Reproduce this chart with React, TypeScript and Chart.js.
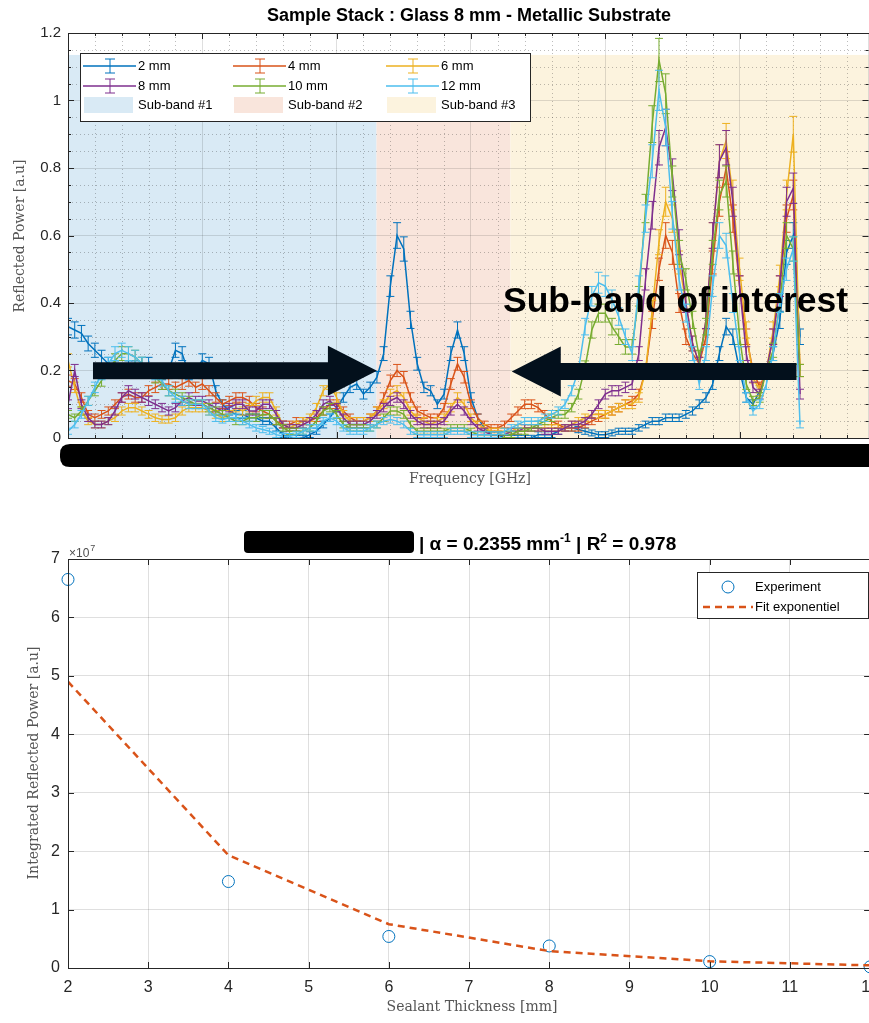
import React, { useEffect, useRef } from "react";
import { Chart, registerables } from "chart.js";

Chart.register(...registerables);

const SANS = '"Liberation Sans", Arial, Helvetica, sans-serif';
const SERIF = '"DejaVu Serif", "Liberation Serif", serif';
const AXIS = "#262626";
const GRID = "rgba(38,38,38,0.15)";
const MINOR = "rgba(38,38,38,0.30)";
const LABEL_GRAY = "#555555";

// ---------------- top chart data ----------------
// sampling grid along the (hidden) frequency axis, arbitrary units
const frequency: number[] = Array.from({ length: 110 }, (_, i) => Math.round(i * 5) / 100);

const seriesLabels = ["2 mm", "4 mm", "6 mm", "8 mm", "10 mm", "12 mm"];
const seriesColors = ["#0072BD", "#D95319", "#EDB120", "#7E2F8E", "#77AC30", "#4DBEEE"];

const p2mm = [
  0.33, 0.32, 0.31, 0.28, 0.26, 0.24, 0.22, 0.21, 0.2, 0.21,
  0.21, 0.22, 0.22, 0.2, 0.19, 0.2, 0.26, 0.25, 0.19, 0.2,
  0.23, 0.22, 0.14, 0.1, 0.08, 0.07, 0.07, 0.06, 0.06, 0.05,
  0.05, 0.03, 0.01, 0.0, 0.0, 0.0, 0.01, 0.02, 0.04, 0.06,
  0.09, 0.12, 0.15, 0.16, 0.13, 0.15, 0.18, 0.25, 0.45, 0.6,
  0.56, 0.35, 0.22, 0.15, 0.14, 0.1, 0.13, 0.25, 0.32, 0.25,
  0.12, 0.06, 0.03, 0.01, 0.01, 0.0, 0.0, 0.0, 0.0, 0.0,
  0.01, 0.01, 0.01, 0.02, 0.03, 0.03, 0.025, 0.02, 0.015, 0.01,
  0.01, 0.015, 0.02, 0.02, 0.02, 0.03, 0.04, 0.05, 0.05, 0.06,
  0.06, 0.06, 0.07, 0.08, 0.1, 0.12, 0.16, 0.25, 0.33, 0.3,
  0.2, 0.12, 0.1, 0.14, 0.2, 0.25, 0.35, 0.55, 0.6, 0.3,
];
const p4mm = [
  0.17, 0.16, 0.12, 0.07, 0.06, 0.07, 0.08, 0.1, 0.12, 0.13,
  0.12, 0.12, 0.14, 0.15, 0.16, 0.16, 0.15, 0.16, 0.17, 0.15,
  0.16, 0.14, 0.12, 0.1, 0.11, 0.12, 0.12, 0.11, 0.09, 0.08,
  0.07, 0.05, 0.04, 0.04, 0.05, 0.05, 0.05, 0.06, 0.08, 0.1,
  0.1, 0.08, 0.06, 0.05, 0.05, 0.06, 0.08, 0.12, 0.17, 0.2,
  0.18, 0.12, 0.08, 0.07, 0.06, 0.06, 0.09, 0.16, 0.22, 0.18,
  0.1, 0.06, 0.04, 0.03, 0.03, 0.04, 0.06, 0.08, 0.1, 0.1,
  0.09, 0.07, 0.05, 0.04, 0.03, 0.03, 0.03, 0.04, 0.05, 0.06,
  0.07, 0.08, 0.09, 0.1, 0.11, 0.13, 0.2, 0.35, 0.5, 0.6,
  0.55, 0.4, 0.3, 0.25, 0.22, 0.3, 0.52, 0.7, 0.8, 0.65,
  0.45, 0.3, 0.2, 0.15, 0.2, 0.3, 0.45, 0.65, 0.72, 0.2,
];
const p6mm = [
  0.23, 0.15, 0.08, 0.05, 0.04, 0.04, 0.05, 0.06, 0.08, 0.09,
  0.09, 0.08, 0.07, 0.06, 0.055, 0.055, 0.06, 0.08, 0.09, 0.09,
  0.09, 0.08, 0.07, 0.06, 0.07, 0.09, 0.08, 0.09, 0.11, 0.12,
  0.12, 0.08, 0.04, 0.03, 0.04, 0.05, 0.06, 0.09, 0.14, 0.16,
  0.12, 0.07, 0.05, 0.05, 0.05, 0.06, 0.08, 0.1, 0.13, 0.14,
  0.12, 0.08, 0.06, 0.05, 0.04, 0.05, 0.06, 0.09, 0.12, 0.1,
  0.06, 0.04, 0.03, 0.02, 0.02, 0.02, 0.02, 0.03, 0.03, 0.03,
  0.03, 0.03, 0.03, 0.03, 0.03, 0.04, 0.05, 0.06, 0.07, 0.07,
  0.07, 0.08, 0.09, 0.1, 0.1, 0.12, 0.2, 0.38, 0.58, 0.7,
  0.65, 0.52, 0.4, 0.28, 0.22, 0.35, 0.6, 0.82, 0.88, 0.72,
  0.5, 0.32, 0.18, 0.14, 0.2, 0.32, 0.48, 0.72, 0.9, 0.2,
];
const p8mm = [
  0.1, 0.2, 0.1, 0.06, 0.04, 0.04, 0.05, 0.08, 0.12, 0.14,
  0.13, 0.12, 0.11, 0.1, 0.09, 0.08, 0.09, 0.11, 0.12, 0.11,
  0.11, 0.1, 0.09, 0.08, 0.09, 0.1, 0.1, 0.08, 0.08, 0.1,
  0.1, 0.07, 0.04, 0.03, 0.03, 0.04, 0.05, 0.07, 0.1, 0.11,
  0.09, 0.06, 0.04, 0.04, 0.04, 0.05, 0.07, 0.09, 0.11, 0.12,
  0.1, 0.07, 0.05, 0.04, 0.04, 0.04, 0.05, 0.08, 0.1, 0.08,
  0.05, 0.03, 0.02, 0.01, 0.01, 0.01, 0.02, 0.02, 0.03, 0.03,
  0.03, 0.02, 0.02, 0.02, 0.03, 0.04, 0.04, 0.05, 0.07, 0.1,
  0.13, 0.14, 0.14, 0.15, 0.16, 0.25, 0.47, 0.66, 0.86, 0.92,
  0.78, 0.58, 0.4, 0.28, 0.22, 0.35, 0.6, 0.82, 0.86, 0.7,
  0.45, 0.25, 0.15, 0.13, 0.2, 0.3, 0.45, 0.7, 0.74, 0.13,
];
const p10mm = [
  0.07, 0.06, 0.08, 0.11, 0.14, 0.17, 0.2, 0.23, 0.25, 0.25,
  0.24, 0.22, 0.2, 0.18, 0.16, 0.14, 0.13, 0.12, 0.11, 0.1,
  0.1, 0.09, 0.08, 0.07, 0.06, 0.05, 0.05, 0.06, 0.06, 0.07,
  0.07, 0.05, 0.03, 0.02, 0.02, 0.02, 0.03, 0.05, 0.08, 0.09,
  0.07, 0.04, 0.03, 0.03, 0.03, 0.03, 0.04, 0.06, 0.08, 0.08,
  0.07, 0.04, 0.02, 0.02, 0.02, 0.02, 0.02, 0.03, 0.03, 0.03,
  0.02, 0.01, 0.01, 0.01, 0.01, 0.01, 0.01, 0.02, 0.02, 0.03,
  0.04, 0.05, 0.06, 0.07, 0.07, 0.09, 0.13, 0.21, 0.32, 0.37,
  0.37, 0.33, 0.3, 0.27, 0.27, 0.42, 0.68, 0.93, 1.12, 1.02,
  0.76, 0.55, 0.47, 0.35, 0.24, 0.33, 0.55, 0.72, 0.76, 0.52,
  0.3, 0.16, 0.11, 0.12, 0.2, 0.26, 0.4, 0.6, 0.56, 0.2,
];
const p12mm = [
  0.02, 0.04, 0.07, 0.11, 0.15, 0.19, 0.22, 0.25, 0.26, 0.25,
  0.24, 0.22, 0.2, 0.19, 0.17, 0.14, 0.12, 0.11, 0.1, 0.1,
  0.1, 0.08, 0.06, 0.055, 0.06, 0.06, 0.05, 0.04, 0.03, 0.025,
  0.02, 0.01, 0.005, 0.005, 0.01, 0.02, 0.03, 0.03, 0.05, 0.06,
  0.05, 0.03, 0.02, 0.02, 0.02, 0.03, 0.04, 0.05, 0.055, 0.05,
  0.04, 0.02, 0.01, 0.01, 0.01, 0.01, 0.01, 0.02, 0.02, 0.02,
  0.01, 0.01, 0.01, 0.01, 0.01, 0.02, 0.03, 0.04, 0.05, 0.05,
  0.05, 0.06, 0.07, 0.08, 0.1, 0.14, 0.2, 0.33, 0.42, 0.46,
  0.45, 0.41, 0.36, 0.3, 0.25, 0.45, 0.65, 0.82, 1.03, 0.92,
  0.66, 0.47, 0.37, 0.25, 0.16, 0.25, 0.45, 0.6, 0.57, 0.4,
  0.25, 0.12, 0.08, 0.1, 0.16, 0.25, 0.4, 0.5, 0.56, 0.04,
];
const seriesValues = [p2mm, p4mm, p6mm, p8mm, p10mm, p12mm];

// error bar half-height model (absolute + relative part)
const errAbs = 0.008;
const errRel = 0.05;

const subBandLabels = ["Sub-band #1", "Sub-band #2", "Sub-band #3"];
const subBandStart = [0, 2.297, 3.294];
const subBandEnd = [2.297, 3.294, 5.96];
const subBandTop = 1.135;
const subBandFill = ["#D9EAF5", "#F9E5DC", "#FCF3DE"];

const arrowTail = [0.186, 5.424];
const arrowTip = [2.3, 3.304];
const arrowLevel = [0.199, 0.197];

const topXTicks = [0, 1, 2, 3, 4, 5];
const topYTicks = [0, 0.2, 0.4, 0.6, 0.8, 1, 1.2];

// ---------------- bottom chart data ----------------
const thicknessMm = [2, 4, 6, 8, 10, 12];
const integratedPower = [6.65e7, 1.48e7, 0.54e7, 0.377e7, 0.11e7, 0.02e7];
const fitPower = [4.9e7, 1.93e7, 0.75e7, 0.29e7, 0.115e7, 0.045e7];
const bottomXTicks = [2, 3, 4, 5, 6, 7, 8, 9, 10, 11, 12];
const bottomYTicks = [0, 1e7, 2e7, 3e7, 4e7, 5e7, 6e7, 7e7];

// ---------------- helpers ----------------
function drawFrame(chart: any, xt: number[], yt: number[], xm: number[], ym: number[]) {
  const { ctx, chartArea, scales } = chart;
  const { left, right, top, bottom } = chartArea;
  const x = scales.x;
  const y = scales.y;
  ctx.save();
  ctx.strokeStyle = AXIS;
  ctx.lineWidth = 1;
  ctx.beginPath();
  const seg = (len: number, vals: number[], horiz: boolean) => {
    vals.forEach((v) => {
      if (horiz) {
        const px = Math.round(x.getPixelForValue(v)) + 0.5;
        ctx.moveTo(px, bottom);
        ctx.lineTo(px, bottom - len);
        ctx.moveTo(px, top);
        ctx.lineTo(px, top + len);
      } else {
        const py = Math.round(y.getPixelForValue(v)) + 0.5;
        ctx.moveTo(left, py);
        ctx.lineTo(left + len, py);
        ctx.moveTo(right, py);
        ctx.lineTo(right - len, py);
      }
    });
  };
  seg(6, xt, true);
  seg(6, yt, false);
  seg(3, xm, true);
  seg(3, ym, false);
  ctx.stroke();
  ctx.strokeRect(Math.round(left) + 0.5, Math.round(top) + 0.5, Math.round(right - left), Math.round(bottom - top));
  ctx.restore();
}

function rotatedText(ctx: CanvasRenderingContext2D, s: string, x: number, y: number, font: string, color: string) {
  ctx.save();
  ctx.translate(x, y);
  ctx.rotate(-Math.PI / 2);
  ctx.font = font;
  ctx.fillStyle = color;
  ctx.textAlign = "center";
  ctx.textBaseline = "middle";
  ctx.fillText(s, 0, 0);
  ctx.restore();
}

function roundRect(ctx: CanvasRenderingContext2D, x: number, y: number, w: number, h: number, r: number) {
  ctx.beginPath();
  ctx.moveTo(x + r, y);
  ctx.lineTo(x + w - r, y);
  ctx.quadraticCurveTo(x + w, y, x + w, y + r);
  ctx.lineTo(x + w, y + h - r);
  ctx.quadraticCurveTo(x + w, y + h, x + w - r, y + h);
  ctx.lineTo(x + r, y + h);
  ctx.quadraticCurveTo(x, y + h, x, y + h - r);
  ctx.lineTo(x, y + r);
  ctx.quadraticCurveTo(x, y, x + r, y);
  ctx.closePath();
}

const topPlugin = {
  id: "topDecor",
  beforeDraw(chart: any) {
    const { ctx, chartArea, scales } = chart;
    const { left, right, top, bottom } = chartArea;
    const x = scales.x;
    const y = scales.y;
    ctx.save();
    // sub-band shading
    subBandStart.forEach((s, k) => {
      const x0 = x.getPixelForValue(s);
      const x1 = x.getPixelForValue(subBandEnd[k]);
      const y0 = y.getPixelForValue(subBandTop);
      const y1 = y.getPixelForValue(0);
      ctx.fillStyle = subBandFill[k];
      ctx.fillRect(x0, y0, x1 - x0, y1 - y0);
    });
    // minor dotted grid
    ctx.strokeStyle = MINOR;
    ctx.lineWidth = 1;
    ctx.setLineDash([1, 3]);
    ctx.beginPath();
    for (let v = 0.2; v < 5.96; v += 0.2) {
      if (Math.abs(v - Math.round(v)) < 1e-6) continue;
      const px = Math.round(x.getPixelForValue(v)) + 0.5;
      ctx.moveTo(px, top);
      ctx.lineTo(px, bottom);
    }
    for (let v = 0.05; v < 1.2; v += 0.05) {
      if (Math.abs(v / 0.2 - Math.round(v / 0.2)) < 1e-6) continue;
      const py = Math.round(y.getPixelForValue(v)) + 0.5;
      ctx.moveTo(left, py);
      ctx.lineTo(right, py);
    }
    ctx.stroke();
    ctx.restore();
  },
  afterDatasetDraw(chart: any, args: any) {
    const k = args.index;
    const meta = args.meta;
    const { ctx, chartArea, scales } = chart;
    const y = scales.y;
    ctx.save();
    ctx.beginPath();
    ctx.rect(chartArea.left, chartArea.top, chartArea.right - chartArea.left, chartArea.bottom - chartArea.top);
    ctx.clip();
    ctx.strokeStyle = seriesColors[k];
    ctx.lineWidth = 1;
    ctx.beginPath();
    meta.data.forEach((pt: any, i: number) => {
      const v = seriesValues[k][i];
      const e = errAbs + errRel * v;
      const y1 = y.getPixelForValue(v + e);
      const y2 = y.getPixelForValue(v - e);
      ctx.moveTo(pt.x, y1);
      ctx.lineTo(pt.x, y2);
      ctx.moveTo(pt.x - 4, y1);
      ctx.lineTo(pt.x + 4, y1);
      ctx.moveTo(pt.x - 4, y2);
      ctx.lineTo(pt.x + 4, y2);
    });
    ctx.stroke();
    ctx.restore();
  },
  afterDraw(chart: any) {
    const { ctx, scales } = chart;
    const x = scales.x;
    const y = scales.y;
    const xm: number[] = [];
    for (let v = 0.2; v < 5.96; v += 0.2) if (Math.abs(v - Math.round(v)) > 1e-6) xm.push(v);
    const ym: number[] = [];
    for (let v = 0.05; v < 1.2; v += 0.05) if (Math.abs(v / 0.2 - Math.round(v / 0.2)) > 1e-6) ym.push(v);
    drawFrame(chart, topXTicks, topYTicks, xm, ym);

    ctx.save();
    // arrows
    ctx.fillStyle = "#03101c";
    arrowTail.forEach((t, k) => {
      const xt = x.getPixelForValue(t);
      const xp = x.getPixelForValue(arrowTip[k]);
      const yc = y.getPixelForValue(arrowLevel[k]);
      const dir = Math.sign(xp - xt);
      const xb = xp - dir * 49;
      ctx.beginPath();
      ctx.moveTo(xt, yc - 8.5);
      ctx.lineTo(xb, yc - 8.5);
      ctx.lineTo(xb, yc - 25);
      ctx.lineTo(xp, yc);
      ctx.lineTo(xb, yc + 25);
      ctx.lineTo(xb, yc + 8.5);
      ctx.lineTo(xt, yc + 8.5);
      ctx.closePath();
      ctx.fill();
    });
    // annotation text
    ctx.fillStyle = "#000";
    ctx.font = `bold 35.5px ${SANS}`;
    ctx.textAlign = "left";
    ctx.textBaseline = "alphabetic";
    ctx.fillText("Sub-band of interest", 503, 312);

    // legend
    ctx.fillStyle = "#fff";
    ctx.fillRect(80.5, 53.5, 450, 68);
    ctx.strokeStyle = AXIS;
    ctx.lineWidth = 1;
    ctx.strokeRect(80.5, 53.5, 450, 68);
    const colX = [83, 233, 386];
    const rowY = [66, 86, 105];
    ctx.font = `13px ${SANS}`;
    ctx.textBaseline = "middle";
    seriesLabels.forEach((lab, k) => {
      const cx = colX[k % 3];
      const cy = rowY[Math.floor(k / 3)];
      ctx.strokeStyle = seriesColors[k];
      ctx.lineWidth = 1.5;
      ctx.beginPath();
      ctx.moveTo(cx, cy);
      ctx.lineTo(cx + 53, cy);
      ctx.stroke();
      ctx.lineWidth = 1;
      ctx.beginPath();
      const mx = cx + 27;
      ctx.moveTo(mx, cy - 7);
      ctx.lineTo(mx, cy + 7);
      ctx.moveTo(mx - 5, cy - 7);
      ctx.lineTo(mx + 5, cy - 7);
      ctx.moveTo(mx - 5, cy + 7);
      ctx.lineTo(mx + 5, cy + 7);
      ctx.stroke();
      ctx.fillStyle = "#000";
      ctx.fillText(lab, cx + 55, cy);
    });
    subBandLabels.forEach((lab, k) => {
      const cx = colX[k];
      const cy = rowY[2];
      ctx.fillStyle = subBandFill[k];
      ctx.fillRect(cx + 1, cy - 8, 49, 16);
      ctx.fillStyle = "#000";
      ctx.fillText(lab, cx + 55, cy);
    });

    // title
    ctx.fillStyle = "#000";
    ctx.font = `bold 18px ${SANS}`;
    ctx.textAlign = "center";
    ctx.textBaseline = "alphabetic";
    ctx.fillText("Sample Stack : Glass 8 mm - Metallic Substrate", 469, 21);

    // axis labels
    ctx.font = `14px ${SERIF}`;
    ctx.fillStyle = LABEL_GRAY;
    ctx.textBaseline = "middle";
    ctx.fillText("Frequency [GHz]", 470, 479);
    rotatedText(ctx, "Reflected Power [a.u]", 20, 236, `14px ${SERIF}`, LABEL_GRAY);

    // redaction bar over the frequency tick labels
    ctx.fillStyle = "#000";
    roundRect(ctx, 60, 444, 840, 23, 10);
    ctx.fill();
    ctx.restore();
  },
};

const BOTTOM_TOP = 495;

const bottomPlugin = {
  id: "bottomDecor",
  afterDraw(chart: any) {
    const { ctx } = chart;
    drawFrame(chart, bottomXTicks, bottomYTicks, [], []);
    const o = BOTTOM_TOP;
    ctx.save();
    // legend
    ctx.fillStyle = "#fff";
    ctx.fillRect(697.5, 572.5 - o, 171, 46);
    ctx.strokeStyle = AXIS;
    ctx.lineWidth = 1;
    ctx.strokeRect(697.5, 572.5 - o, 171, 46);
    ctx.strokeStyle = "#0072BD";
    ctx.beginPath();
    ctx.arc(728, 587 - o, 6, 0, Math.PI * 2);
    ctx.stroke();
    ctx.strokeStyle = "#D95319";
    ctx.lineWidth = 2.5;
    ctx.setLineDash([7, 5]);
    ctx.beginPath();
    ctx.moveTo(703, 607 - o);
    ctx.lineTo(753, 607 - o);
    ctx.stroke();
    ctx.setLineDash([]);
    ctx.fillStyle = "#000";
    ctx.font = `13px ${SANS}`;
    ctx.textAlign = "left";
    ctx.textBaseline = "middle";
    ctx.fillText("Experiment", 755, 587 - o);
    ctx.fillText("Fit exponentiel", 755, 607 - o);

    // title with redaction box
    ctx.fillStyle = "#000";
    roundRect(ctx, 244, 531 - o, 170, 22, 4);
    ctx.fill();
    ctx.textBaseline = "alphabetic";
    let cx = 419;
    const base = 550 - o;
    const part = (s: string, font: string, dy: number) => {
      ctx.font = font;
      ctx.fillText(s, cx, base + dy);
      cx += ctx.measureText(s).width;
    };
    part("| α = 0.2355 mm", `bold 19px ${SANS}`, 0);
    part("-1", `bold 12px ${SANS}`, -8);
    part(" | R", `bold 19px ${SANS}`, 0);
    part("2", `bold 12px ${SANS}`, -8);
    part(" = 0.978", `bold 19px ${SANS}`, 0);

    // exponent marker
    ctx.fillStyle = "#4d4d4d";
    ctx.font = `12px ${SANS}`;
    ctx.fillText("×10", 69, 557 - o);
    const w = ctx.measureText("×10").width;
    ctx.font = `9px ${SANS}`;
    ctx.fillText("7", 69 + w + 1, 551 - o);

    // axis labels
    ctx.font = `14px ${SERIF}`;
    ctx.fillStyle = LABEL_GRAY;
    ctx.textAlign = "center";
    ctx.textBaseline = "middle";
    ctx.fillText("Sealant Thickness [mm]", 472, 1007 - o);
    rotatedText(ctx, "Integrated Reflected Power [a.u]", 34, 763 - o, `14px ${SERIF}`, LABEL_GRAY);
    ctx.restore();
  },
};

function TopChart() {
  const ref = useRef<HTMLCanvasElement>(null);
  useEffect(() => {
    const canvas = ref.current!;
    const datasets = seriesValues.map((vals, k) => ({
      label: seriesLabels[k],
      data: vals.map((v, i) => ({ x: frequency[i], y: v })),
      borderColor: seriesColors[k],
      backgroundColor: seriesColors[k],
      borderWidth: 1.5,
      pointRadius: 0,
      tension: 0,
      order: seriesValues.length - 1 - k,
    }));
    const chart = new Chart(canvas, {
      type: "line",
      data: { datasets },
      options: {
        responsive: false,
        animation: false,
        devicePixelRatio: 1,
        events: [],
        layout: { padding: { top: 33, right: 11.5, left: 0, bottom: 0 } },
        plugins: { legend: { display: false }, tooltip: { enabled: false }, title: { display: false } },
        scales: {
          x: {
            type: "linear",
            min: 0,
            max: 5.96,
            afterFit: (s: any) => {
              s.height = 57;
            },
            ticks: { display: false, stepSize: 1 },
            grid: { color: GRID, drawTicks: false, lineWidth: 1 },
            border: { display: false },
          },
          y: {
            type: "linear",
            min: 0,
            max: 1.2,
            afterFit: (s: any) => {
              s.width = 68;
            },
            ticks: {
              stepSize: 0.2,
              color: AXIS,
              font: { family: SANS, size: 15 },
              padding: 7,
              callback: (v: any) => String(Math.round(Number(v) * 10) / 10),
            },
            grid: { color: GRID, drawTicks: false, lineWidth: 1 },
            border: { display: false },
          },
        },
      } as any,
      plugins: [topPlugin as any],
    });
    return () => chart.destroy();
  }, []);
  return (
    <canvas
      ref={ref}
      width={880}
      height={495}
      style={{ position: "absolute", left: 0, top: 0, width: 880, height: 495 }}
    />
  );
}

function BottomChart() {
  const ref = useRef<HTMLCanvasElement>(null);
  useEffect(() => {
    const canvas = ref.current!;
    const chart = new Chart(canvas, {
      type: "line",
      data: {
        datasets: [
          {
            label: "Experiment",
            data: thicknessMm.map((t, i) => ({ x: t, y: integratedPower[i] })),
            showLine: false,
            pointStyle: "circle",
            pointRadius: 6,
            pointBorderWidth: 1,
            borderColor: "#0072BD",
            pointBorderColor: "#0072BD",
            pointBackgroundColor: "rgba(0,0,0,0)",
            order: 1,
            clip: 8,
          },
          {
            label: "Fit exponentiel",
            data: thicknessMm.map((t, i) => ({ x: t, y: fitPower[i] })),
            borderColor: "#D95319",
            borderWidth: 2.5,
            borderDash: [7, 5],
            pointRadius: 0,
            tension: 0,
            order: 0,
          },
        ],
      },
      options: {
        responsive: false,
        animation: false,
        devicePixelRatio: 1,
        events: [],
        layout: { padding: { top: 64, right: 10, left: 0, bottom: 0 } },
        plugins: { legend: { display: false }, tooltip: { enabled: false }, title: { display: false } },
        scales: {
          x: {
            type: "linear",
            min: 2,
            max: 12,
            afterFit: (s: any) => {
              s.height = 55;
            },
            ticks: { stepSize: 1, color: AXIS, font: { family: SANS, size: 16 }, padding: 10 },
            grid: { color: GRID, drawTicks: false, lineWidth: 1 },
            border: { display: false },
          },
          y: {
            type: "linear",
            min: 0,
            max: 7e7,
            afterFit: (s: any) => {
              s.width = 68;
            },
            ticks: {
              stepSize: 1e7,
              color: AXIS,
              font: { family: SANS, size: 16 },
              padding: 8,
              callback: (v: any) => String(Math.round(Number(v) / 1e7)),
            },
            grid: { color: GRID, drawTicks: false, lineWidth: 1 },
            border: { display: false },
          },
        },
      } as any,
      plugins: [bottomPlugin as any],
    });
    return () => chart.destroy();
  }, []);
  return (
    <canvas
      ref={ref}
      width={889}
      height={528}
      style={{ position: "absolute", left: 0, top: BOTTOM_TOP, width: 889, height: 528 }}
    />
  );
}

export default function App() {
  return (
    <div
      style={{
        position: "fixed",
        left: 0,
        top: 0,
        width: 869,
        height: 1023,
        overflow: "hidden",
        background: "#fff",
      }}
    >
      <TopChart />
      <BottomChart />
    </div>
  );
}
